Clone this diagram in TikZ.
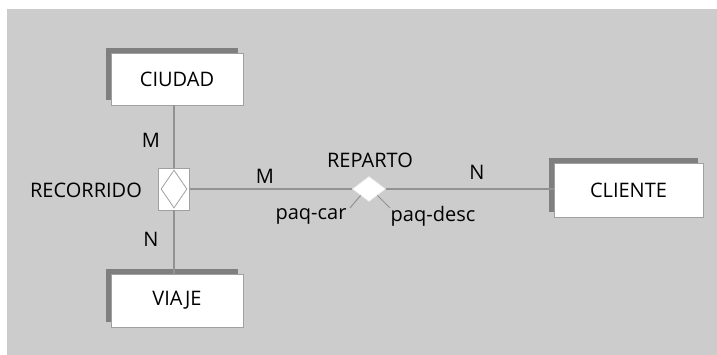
\documentclass[tikz,border=0pt]{standalone}
\usepackage{fontspec}
\setmainfont{Open Sans}
\usetikzlibrary{shapes.geometric,shadows}
\definecolor{bggray}{HTML}{CCCCCC}
\definecolor{linegray}{HTML}{929292}
\definecolor{shadowgray}{HTML}{7F7F7F}
\definecolor{boxborder}{HTML}{A0A0A0}
\tikzset{
  entity/.style={rectangle, fill=white, draw=boxborder, line width=0.8pt,
    inner sep=0pt, font=\fontsize{20}{22}\selectfont,
    drop shadow={shadow xshift=-5pt, shadow yshift=5pt, opacity=1, fill=shadowgray}},
  conn/.style={draw=linegray, line width=1.3pt},
  lbl/.style={inner sep=0pt, font=\fontsize{20}{22}\selectfont},
}
\begin{document}
\begin{tikzpicture}[x=1pt,y=-1pt]
\useasboundingbox (0,0) rectangle (717,355);
\fill[white] (0,0) rectangle (717,355);
\fill[bggray] (7,9) rectangle (717,355);

\node[entity, minimum width=132pt, minimum height=52pt] (ciudad) at (177,79) {CIUDAD};
\node[entity, minimum width=132pt, minimum height=53pt] (viaje) at (177,300.5) {VIAJE};
\node[entity, minimum width=149pt, minimum height=54pt] (cliente) at (628.5,190) {CLIENTE};

\node[rectangle, fill=white, draw=boxborder, line width=0.8pt, minimum width=31pt, minimum height=42pt, inner sep=0pt] (rec) at (174,189) {};
\node[diamond, draw=boxborder, line width=0.8pt, fill=white, minimum width=26pt, minimum height=38pt, inner sep=0pt] (recd) at (rec.center) {};

\node[diamond, fill=white, draw=white!85!gray, line width=0.6pt, minimum width=33pt, minimum height=25pt, inner sep=0pt] (reparto) at (369,189) {};

\coordinate (carend) at (350,208);
\coordinate (descend) at (390,208);

\draw[conn] (ciudad.south -| rec.north) -- (rec.north);
\draw[conn] (rec.south) -- (viaje.north -| rec.south);
\draw[conn] (rec.east) -- (reparto.west);
\draw[conn] (reparto.east) -- (reparto.east -| cliente.west);
\draw[conn, line width=1pt] (reparto.south west) -- (carend);
\draw[conn, line width=1pt] (reparto.south east) -- (descend);

\node[lbl] (m1) at (151,140) {M};
\node[lbl] (n1) at (151,239) {N};
\node[lbl] (recl) at (86,190) {RECORRIDO};
\node[lbl] (m2) at (265,176) {M};
\node[lbl] (repl) at (370,160) {REPARTO};
\node[lbl] (n2) at (477,172) {N};
\node[lbl] (pcar) at (311,216) {paq-car};
\node[lbl] (pdesc) at (433,216) {paq-desc};
\end{tikzpicture}
\end{document}
